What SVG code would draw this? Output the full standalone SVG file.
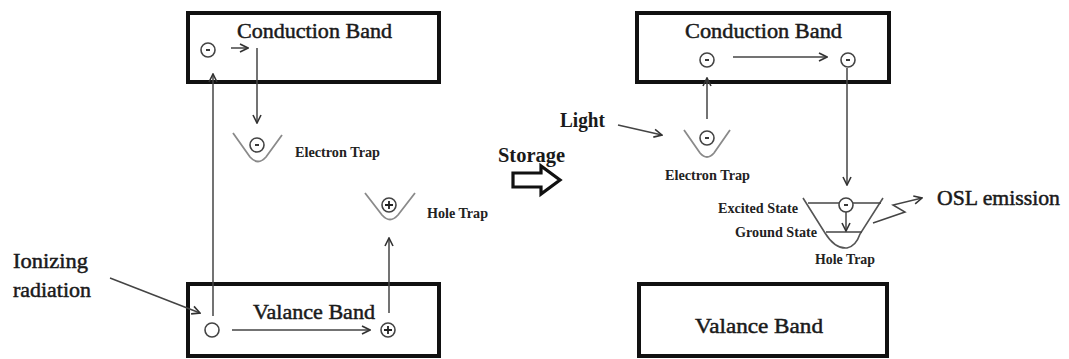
<svg xmlns="http://www.w3.org/2000/svg" width="1069" height="359" viewBox="0 0 1069 359">
<style>
.band{fill:#fff;stroke:#111;stroke-width:4}
.big{font-family:"Liberation Serif",serif;font-size:22px;fill:#1a1a1a;stroke:#1a1a1a;stroke-width:0.5}
.bold{font-family:"Liberation Serif",serif;font-size:20px;font-weight:bold;fill:#1a1a1a}
.small{font-family:"Liberation Serif",serif;font-size:14px;font-weight:bold;fill:#222}
.chg{fill:#fff;stroke:#444;stroke-width:1.6}
.sign{stroke:#222;stroke-width:1.8;fill:none}
.trap{fill:none;stroke:#8a8a8a;stroke-width:1.8}
.conn{fill:none;stroke:#444;stroke-width:1.5}
</style>
<defs>
<marker id="ah" viewBox="0 0 10 10" refX="9" refY="5" markerWidth="10" markerHeight="10" markerUnits="userSpaceOnUse" orient="auto">
<path d="M1,1 L9,5 L1,9" fill="none" stroke="#333" stroke-width="1.6"/>
</marker>
</defs>
<rect width="1069" height="359" fill="#fff"/>

<g id="cb-left">
<rect class="band" x="188" y="13" width="251" height="69"/>
<text class="big" x="237" y="38" textLength="155" lengthAdjust="spacingAndGlyphs">Conduction Band</text>
<circle class="chg" cx="208" cy="50" r="7"/><path class="sign" d="M206,50 H210"/>
</g>

<g id="vb-left">
<rect class="band" x="188" y="284" width="251" height="72"/>
<text class="big" x="253" y="319" textLength="122" lengthAdjust="spacingAndGlyphs">Valance Band</text>
<circle class="chg" cx="212" cy="330" r="7"/>
<circle class="chg" cx="388" cy="330" r="7"/><path class="sign" d="M384,330 H392 M388,326 V334"/>
</g>

<g id="etrap-left">
<path class="trap" d="M233,133 L250,157 Q258,166 266,157 L282,135"/>
<circle class="chg" cx="257" cy="145" r="7"/><path class="sign" d="M255,145 H259"/>
<text class="small" x="295" y="157" textLength="85" lengthAdjust="spacingAndGlyphs">Electron Trap</text>
</g>

<g id="htrap-left">
<path class="trap" d="M365,193 L382,215 Q390,224 398,215 L415,193"/>
<circle class="chg" cx="389" cy="205" r="7"/><path class="sign" d="M385,205 H393 M389,201 V209"/>
<text class="small" x="427" y="218" textLength="61" lengthAdjust="spacingAndGlyphs">Hole Trap</text>
</g>

<g id="ionizing">
<text class="big" x="13" y="268" textLength="75" lengthAdjust="spacingAndGlyphs">Ionizing</text>
<text class="big" x="13" y="297" textLength="78" lengthAdjust="spacingAndGlyphs">radiation</text>
</g>

<g id="storage">
<text class="bold" x="498" y="162" textLength="67" lengthAdjust="spacingAndGlyphs">Storage</text>
<path d="M513,173 L541,173 L541,166 L560,180 L541,194 L541,187 L513,187 Z" fill="#fff" stroke="#111" stroke-width="3.2" stroke-linejoin="miter"/>
</g>

<g id="cb-right">
<rect class="band" x="637" y="13" width="252" height="69"/>
<text class="big" x="685" y="38" textLength="157" lengthAdjust="spacingAndGlyphs">Conduction Band</text>
<circle class="chg" cx="707" cy="60" r="7"/><path class="sign" d="M705,60 H709"/>
<circle class="chg" cx="848" cy="60" r="7"/><path class="sign" d="M846,60 H850"/>
</g>

<g id="vb-right">
<rect class="band" x="639" y="284" width="248" height="72"/>
<text class="big" x="695" y="333" textLength="128" lengthAdjust="spacingAndGlyphs">Valance Band</text>
</g>

<g id="light">
<text class="bold" x="560" y="127" textLength="45" lengthAdjust="spacingAndGlyphs">Light</text>
</g>

<g id="etrap-right">
<path class="trap" d="M684,130 L700,153 Q707,161 714,153 L730,130"/>
<circle class="chg" cx="707" cy="138" r="7"/><path class="sign" d="M705,138 H709"/>
<text class="small" x="665" y="180" textLength="85" lengthAdjust="spacingAndGlyphs">Electron Trap</text>
</g>

<g id="htrap-right">
<path d="M803,198 L825,233 Q835,249 847,248 Q856,246 860,234 L883,198" fill="none" stroke="#555" stroke-width="1.6"/>
<path d="M808,203 H881" stroke="#444" stroke-width="1.6"/>
<path d="M826,232 H862" stroke="#444" stroke-width="1.6"/>
<circle class="chg" cx="846" cy="205" r="7"/><path class="sign" d="M844,205 H848"/>
<text class="small" x="718" y="213" textLength="80" lengthAdjust="spacingAndGlyphs">Excited State</text>
<text class="small" x="735" y="237" textLength="82" lengthAdjust="spacingAndGlyphs">Ground State</text>
<text class="small" x="815" y="264" textLength="60" lengthAdjust="spacingAndGlyphs">Hole Trap</text>
</g>

<g id="osl">
<text class="big" x="937" y="205" textLength="123" lengthAdjust="spacingAndGlyphs">OSL emission</text>
</g>

<g id="connectors">
<path class="conn" d="M213,316 V74" marker-end="url(#ah)"/>
<path class="conn" d="M231,48 H248" marker-end="url(#ah)"/>
<path class="conn" d="M257,48 V123" marker-end="url(#ah)"/>
<path class="conn" d="M232,330 H370" marker-end="url(#ah)"/>
<path class="conn" d="M389,313 V238" marker-end="url(#ah)"/>
<path class="conn" d="M110,278 L200,313" marker-end="url(#ah)"/>
<path class="conn" d="M618,125 L662,135" marker-end="url(#ah)"/>
<path class="conn" d="M707,119 V78" marker-end="url(#ah)"/>
<path class="conn" d="M733,57 H827" marker-end="url(#ah)"/>
<path class="conn" d="M847,68 V185" marker-end="url(#ah)"/>
<path class="conn" d="M846,212 V231" marker-end="url(#ah)"/>
<path class="conn" d="M873,223 L905,212 L893,205 L922,198" marker-end="url(#ah)"/>
</g>
</svg>
